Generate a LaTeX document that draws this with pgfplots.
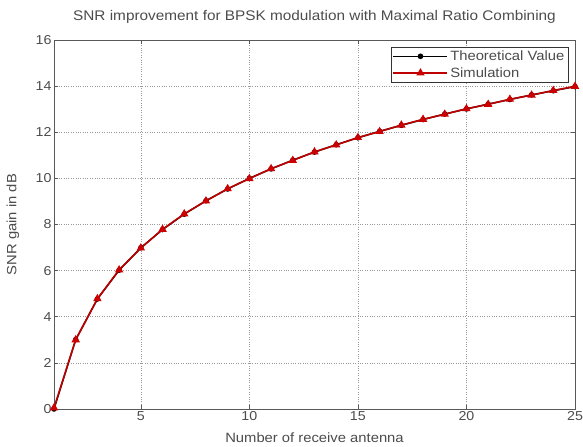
\documentclass[border=0pt]{standalone}
\usepackage{pgfplots}
\pgfplotsset{compat=1.18}
\usepackage{fontspec}
\setmainfont[FakeStretch=1.1]{Liberation Sans}
\begin{document}
\begin{tikzpicture}
\begin{axis}[
  name=ax,
  scale only axis,
  width=521bp, height=369bp,
  xmin=1, xmax=25, ymin=0, ymax=16,
  xtick={5,10,15,20,25},
  ytick={0,2,4,6,8,10,12,14,16},
  grid=major,
  major grid style={dotted, gray!80, line width=0.6pt},
  axis line style={black!65, line width=0.8pt},
  tick style={black!65, line width=0.6pt},
  major tick length=4bp,
  tick align=inside,
  ticklabel style={font=\fontsize{13}{15}\selectfont, text=black!70},
  xticklabel style={yshift=1bp},
  yticklabel style={xshift=1bp},
  /pgf/number format/assume math mode=true,
  title={SNR improvement for BPSK modulation with Maximal Ratio Combining},
  title style={font=\fontsize{14}{16}\selectfont, text=black!70, at={(axis description cs:0.5,1)}, anchor=center, yshift=17bp},
  xlabel={Number of receive antenna},
  ylabel={SNR gain in dB},
  label style={font=\fontsize{13.5}{15}\selectfont, text=black!70},
  xlabel style={at={(axis description cs:0.5,0)}, anchor=center, yshift=-29bp},
  ylabel style={at={(axis description cs:0,0.5)}, anchor=center, yshift=41bp},
  legend style={font=\fontsize{13.5}{15}\selectfont, text=black!70, draw=black!80, inner sep=1.5pt, at={(1,1)}, anchor=north east, xshift=-7bp, yshift=-7bp, row sep=1.5bp},
  legend cell align=left,
  legend image code/.code={\draw[mark repeat=2,mark phase=2,#1] plot coordinates {(0bp,0bp) (27bp,0bp) (54bp,0bp)};},
]
\addlegendimage{black, line width=1.6pt, mark=*, mark size=2pt}
\addlegendentry{Theoretical Value}
\addlegendimage{red!75!black, line width=1.6pt, mark=triangle*, mark size=3.3pt, mark options={fill=red!80!black, draw=red!80!black}}
\addlegendentry{Simulation}
\addplot[forget plot, black, line width=1.5pt, mark=*, mark size=2pt] coordinates {
(1,0) (2,3.01) (3,4.77) (4,6.02) (5,6.99) (6,7.78) (7,8.45) (8,9.03) (9,9.54) (10,10.00)
(11,10.41) (12,10.79) (13,11.14) (14,11.46) (15,11.76) (16,12.04) (17,12.30) (18,12.55)
(19,12.79) (20,13.01) (21,13.22) (22,13.42) (23,13.62) (24,13.80) (25,13.98)};
\addplot[forget plot, red!75!black, line width=1.6pt, mark=triangle*, mark size=3.3pt, mark options={fill=red!80!black, draw=red!80!black}] coordinates {
(1,0.05) (2,3.00) (3,4.78) (4,6.03) (5,6.98) (6,7.79) (7,8.46) (8,9.02) (9,9.55) (10,9.99)
(11,10.42) (12,10.78) (13,11.15) (14,11.45) (15,11.77) (16,12.03) (17,12.31) (18,12.56)
(19,12.78) (20,13.02) (21,13.21) (22,13.43) (23,13.61) (24,13.81) (25,13.99)};
\end{axis}
\pgfresetboundingbox
\path ([shift={(-54bp,-38bp)}]ax.south west) rectangle ([shift={(8bp,40bp)}]ax.north east);
\end{tikzpicture}
\end{document}
